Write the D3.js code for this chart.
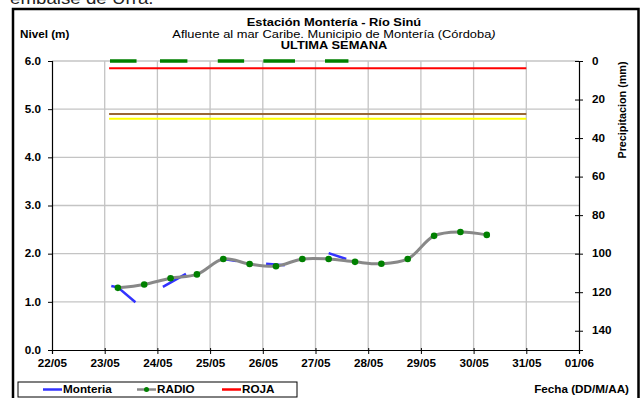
<!DOCTYPE html>
<html><head><meta charset="utf-8">
<script src="https://cdn.jsdelivr.net/npm/d3@7/dist/d3.min.js"></script>
<style>
html,body{margin:0;padding:0;background:#fff;}
text{font-family:"Liberation Sans",Arial,sans-serif;}
</style></head>
<body><svg id="c" width="641" height="398"></svg>
<script>
// ---------- data ----------
const dayTicks = ["22/05","23/05","24/05","25/05","26/05","27/05","28/05","29/05","30/05","31/05","01/06"];
const levelTicks = [0,1,2,3,4,5,6];
const precipTicks = [0,20,40,60,80,100,120,140];

const radioTimes = ["23/05 06:00","23/05 18:00","24/05 06:00","24/05 18:00","25/05 06:00","25/05 18:00",
  "26/05 06:00","26/05 18:00","27/05 06:00","27/05 18:00","28/05 06:00","28/05 18:00","29/05 06:00","29/05 18:00","30/05 06:00"];
const radioValues = [1.29,1.36,1.49,1.57,1.89,1.785,1.74,1.89,1.89,1.83,1.79,1.89,2.37,2.45,2.39];

const monteriaTimes = ["23/05 03:00","23/05 06:00","23/05 14:00","23/05 20:00",
  "24/05 02:30","24/05 13:00","24/05 20:00",
  "25/05 06:00","25/05 12:00","25/05 20:00",
  "26/05 01:30","26/05 10:00","26/05 20:00",
  "27/05 06:00","27/05 14:00"];
const monteriaValues = [1.33,1.30,0.99,null, 1.31,1.58,null, 1.89,1.85,null, 1.79,1.76,null, 2.01,1.89];

const precipTimes = ["23/05 02:24","23/05 14:30","23/05 20:00","24/05 01:10","24/05 13:40","24/05 20:00",
  "25/05 03:30","25/05 15:30","25/05 20:00","26/05 00:15","26/05 14:40","26/05 20:00","27/05 04:20","27/05 15:00"];
const precipValues = [0,0,null,0,0,null,0,0,null,0,0,null,0,0];

const thresholdStart = "23/05 02:00", thresholdEnd = "31/05 00:00";
const thresholdNames = ["ROJA","NARANJA","AMARILLA"];
const thresholdValues = [5.85,4.90,4.80];
const thresholdColors = ["#ff0000","#996633","#ffff00"];

// ---------- setup ----------
const parse = s => d3.timeParse("%d/%m/%Y %H:%M")(s.split(" ")[0]+"/2010 "+(s.split(" ")[1]||"00:00"));
const svg = d3.select("#c");
const L=52, R=579, T=61, B=350;
const SX = 1.17;
const x = d3.scaleTime().domain([parse("22/05"), parse("01/06")]).range([L,R]);
const y = d3.scaleLinear().domain([0,6]).range([B,T]);
const yR = d3.scaleLinear().domain([0,150]).range([T,B]);
const FONT = '"Liberation Sans",Arial,sans-serif';
// horizontal stretch of a text around its anchor point
function stretch(sel){
  sel.each(function(){
    const t = d3.select(this);
    const ax = +(t.attr("x")||0), ay = +(t.attr("y")||0);
    t.attr("transform",`translate(${ax},${ay}) scale(${SX},1) translate(${-ax},${-ay})`);
  });
}

// outer frame
svg.append("rect").attr("x",13).attr("y",9).attr("width",625.5).attr("height",400)
  .attr("fill","none").attr("stroke","#000").attr("stroke-width",2.5);
svg.append("text").attr("x",10).attr("y",3.5).attr("font-size",16).attr("fill","#222").text("embalse de Urrá.").call(stretch);

// titles
const tcx = 334;
svg.append("text").attr("x",tcx).attr("y",26).attr("text-anchor","middle").attr("font-size",11).attr("font-weight","bold").text("Estación Montería  - Río Sinú").call(stretch);
const st = svg.append("text").attr("x",tcx).attr("y",38).attr("text-anchor","middle").attr("font-size",11);
st.append("tspan").text("Afluente al mar Caribe. Municipio de Montería (Córdoba");
st.append("tspan").attr("font-style","italic").text(")");
st.call(stretch);
svg.append("text").attr("x",tcx).attr("y",49.5).attr("text-anchor","middle").attr("font-size",11).attr("font-weight","bold").text("ULTIMA SEMANA").call(stretch);
svg.append("text").attr("x",20).attr("y",38).attr("font-size",10).attr("font-weight","bold").text("Nivel (m)").call(stretch);

// grid
const grid = svg.append("g").attr("stroke","#c4c4c4").attr("stroke-width",1.3);
levelTicks.filter(d=>d>0).forEach(v=>grid.append("line").attr("x1",L).attr("x2",R).attr("y1",y(v)).attr("y2",y(v)));
dayTicks.slice(1,-1).forEach(d=>grid.append("line").attr("x1",x(parse(d))).attr("x2",x(parse(d))).attr("y1",T).attr("y2",B));

// axes
const axL = svg.append("g").attr("transform",`translate(${L},0)`)
  .call(d3.axisLeft(y).tickValues(levelTicks).tickFormat(d3.format(".1f")).tickSize(4).tickPadding(7));
const axB = svg.append("g").attr("transform",`translate(0,${B})`)
  .call(d3.axisBottom(x).tickValues(dayTicks.map(parse)).tickFormat(d3.timeFormat("%d/%m")).tickSize(4).tickPadding(6));
const axR = svg.append("g").attr("transform",`translate(${R},0)`)
  .call(d3.axisRight(yR).tickValues(precipTicks).tickSize(4).tickPadding(9));
axR.selectAll(".tick line").attr("x1",-4).attr("x2",4);
[axL,axB,axR].forEach(a=>{
  a.selectAll("path.domain").attr("stroke","#000").attr("stroke-width",1.2);
  a.selectAll(".tick line").attr("stroke","#000");
  a.selectAll("text").attr("font-family",FONT).attr("font-size",10).attr("font-weight","bold").attr("fill","#000").call(stretch);
});
axB.selectAll(".tick line").attr("y1",-2);

svg.append("text").attr("transform",`translate(626,110) rotate(-90) scale(1.08,1)`).attr("text-anchor","middle")
  .attr("font-size",10).attr("font-weight","bold").text("Precipitacion (mm)");

// thresholds
thresholdValues.forEach((v,i)=>{
  svg.append("line").attr("x1",x(parse(thresholdStart))).attr("x2",x(parse(thresholdEnd)))
    .attr("y1",y(v)).attr("y2",y(v)).attr("stroke",thresholdColors[i]).attr("stroke-width",2);
});

// precipitation (dashed green at top)
const precipData = precipTimes.map((t,i)=>({t:parse(t),v:precipValues[i]}));
svg.append("path").datum(precipData)
  .attr("d",d3.line().defined(d=>d.v!==null).x(d=>x(d.t)).y(d=>yR(d.v)))
  .attr("fill","none").attr("stroke","#008000").attr("stroke-width",3.5);

// monteria
const monData = monteriaTimes.map((t,i)=>({t:parse(t),v:monteriaValues[i]}));
svg.append("path").datum(monData)
  .attr("d",d3.line().defined(d=>d.v!==null).x(d=>x(d.t)).y(d=>y(d.v)))
  .attr("fill","none").attr("stroke","#3333ff").attr("stroke-width",2.5);

// radio
const radData = radioTimes.map((t,i)=>({t:parse(t),v:radioValues[i]}));
svg.append("path").datum(radData)
  .attr("d",d3.line().curve(d3.curveCatmullRom.alpha(0.5)).x(d=>x(d.t)).y(d=>y(d.v)))
  .attr("fill","none").attr("stroke","#888888").attr("stroke-width",3);
svg.append("g").selectAll("circle").data(radData).join("circle")
  .attr("cx",d=>x(d.t)).attr("cy",d=>y(d.v)).attr("r",3.3).attr("fill","#008000");

// legend
const lg = svg.append("g");
lg.append("rect").attr("x",18).attr("y",382).attr("width",279).attr("height",15).attr("fill","#fff").attr("stroke","#000").attr("stroke-width",1);
const items = [{n:"Monteria",c:"#3333ff",x:43,dot:false},{n:"RADIO",c:"#888888",x:137,dot:true},{n:"ROJA",c:"#ff0000",x:222,dot:false}];
items.forEach(it=>{
  lg.append("line").attr("x1",it.x).attr("x2",it.x+19).attr("y1",389.5).attr("y2",389.5).attr("stroke",it.c).attr("stroke-width",2.5);
  if(it.dot) lg.append("circle").attr("cx",it.x+9.5).attr("cy",389.5).attr("r",2.5).attr("fill","#008000");
  lg.append("text").attr("x",it.x+20).attr("y",393.5).attr("font-size",10).attr("font-weight","bold").text(it.n).call(stretch);
});
svg.append("text").attr("x",629).attr("y",393).attr("text-anchor","end").attr("font-size",10).attr("font-weight","bold").text("Fecha (DD/M/AA)").call(stretch);
</script></body></html>
